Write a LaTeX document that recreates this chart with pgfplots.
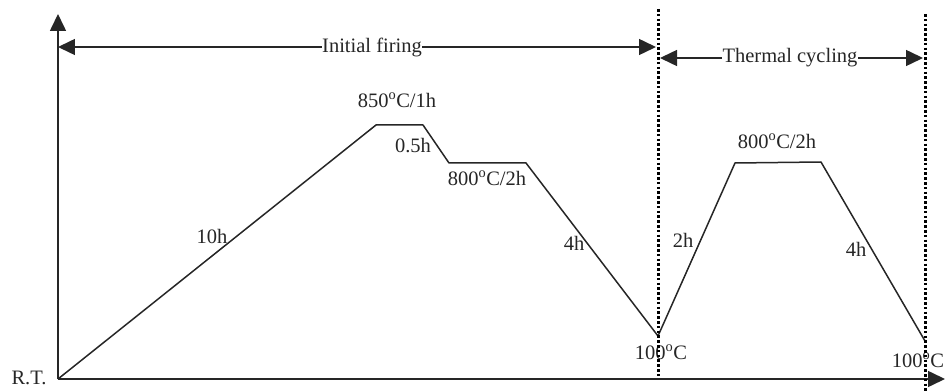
\documentclass[border=0pt]{standalone}
\usepackage{pgfplots}
\pgfplotsset{compat=1.18}
\usepackage{fontspec}
\setmainfont{Liberation Serif}
\usetikzlibrary{arrows.meta}
\tikzset{lbl/.style={font=\fontsize{20.5}{24}\selectfont, text=black!85}}
\begin{document}
\begin{tikzpicture}
\begin{axis}[
  x=1pt, y=1pt,
  xmin=58, xmax=945, ymin=12, ymax=377,
  axis lines=left,
  axis line style={line width=1.6pt, black!85, -{Triangle[length=17pt,width=16pt]}},
  ticks=none,
  clip=false,
]
\coordinate (ll) at (axis cs:0,0);
\coordinate (ur) at (axis cs:945,391);
% temperature profile
\addplot[black!85, line width=1.5pt, line join=round] coordinates {
  (58,12) (376,266) (423,266) (449,228) (526,228) (658,55)
  (735,228) (821,229) (925,50)
};
% labels
\node[lbl] at (axis cs:397,291) {850\textsuperscript{o}C/1h};
\node[lbl] at (axis cs:413,245) {0.5h};
\node[lbl] at (axis cs:487,213) {800\textsuperscript{o}C/2h};
\node[lbl] at (axis cs:212,155) {10h};
\node[lbl] at (axis cs:574,148) {4h};
\node[lbl] at (axis cs:683,151) {2h};
\node[lbl] at (axis cs:777,250) {800\textsuperscript{o}C/2h};
\node[lbl] at (axis cs:856,142) {4h};
\node[lbl] at (axis cs:661,39) {100\textsuperscript{o}C};
\node[lbl] at (axis cs:918,31) {100\textsuperscript{o}C};
\node[lbl, anchor=east] at (axis cs:50,13) {R.T.};
% dotted separators
\addplot[black, line width=3pt, dash pattern=on 2.6pt off 2.2pt] coordinates {(658,382) (658,14)};
\addplot[black, line width=3pt, dash pattern=on 2.6pt off 2.2pt] coordinates {(925,377) (925,0)};
% range arrows
\draw[black!85, line width=1.5pt, {Triangle[length=17pt,width=16pt]}-{Triangle[length=17pt,width=16pt]}]
  (axis cs:58,344) -- (axis cs:656,344);
\node[lbl, fill=white, inner sep=0.5pt] at (axis cs:372,344) {Initial firing};
\draw[black!85, line width=1.5pt, {Triangle[length=17pt,width=16pt]}-{Triangle[length=17pt,width=16pt]}]
  (axis cs:660,333) -- (axis cs:923,333);
\node[lbl, fill=white, inner sep=0.5pt] at (axis cs:790,333) {Thermal cycling};
\end{axis}
\pgfresetboundingbox
\path[use as bounding box] (ll) rectangle (ur);
\end{tikzpicture}
\end{document}
